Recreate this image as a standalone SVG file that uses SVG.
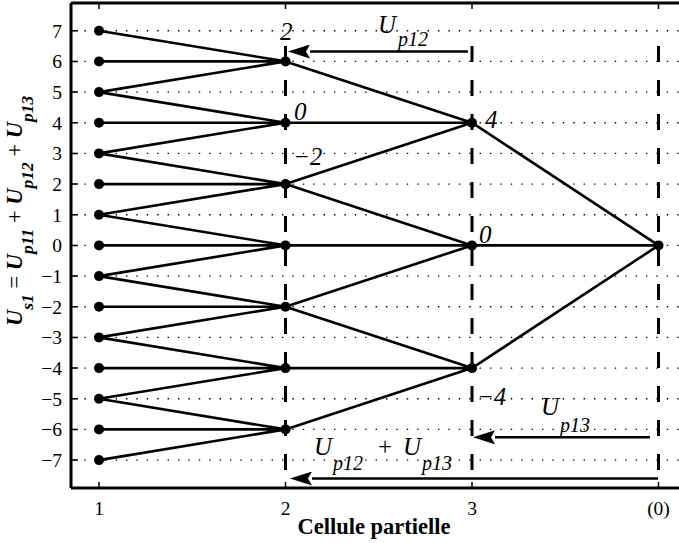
<svg xmlns="http://www.w3.org/2000/svg" width="679" height="543" viewBox="0 0 679 543">
<style>
.grid{stroke:#000;stroke-width:1.4;stroke-dasharray:1.4 9;fill:none}
.axis{stroke:#000;stroke-width:3;fill:none}
.tick{stroke:#000;stroke-width:1.5;fill:none}
.vdash{stroke:#000;stroke-width:3;stroke-dasharray:16 18;fill:none}
.edge{stroke:#000;stroke-width:2.6;fill:none;stroke-linecap:round}
.node{fill:#000}
text{font-family:"Liberation Serif","Times New Roman","DejaVu Serif",serif;fill:#000}
.tl{font-size:19.5px}
.lab{font-size:25px;font-style:italic}
.sub{font-size:20px}
.arr{stroke:#000;stroke-width:2.6;fill:none}
</style>
<defs>
<marker id="ah" markerUnits="userSpaceOnUse" markerWidth="22" markerHeight="14" refX="0" refY="7" orient="auto" viewBox="0 0 22 14">
<path d="M0,0 L22,7 L0,14 L4,7 Z" fill="#000"/>
</marker>
</defs>
<rect width="679" height="543" fill="#fff"/>
<g id="grid">
<path class="grid" d="M74,30.7H679M74,61.4H679M74,92.1H679M74,122.7H679M74,153.4H679M74,184.1H679M74,214.7H679M74,245.4H679M74,276.1H679M74,306.7H679M74,337.4H679M74,368.1H679M74,398.8H679M74,429.4H679M74,460.1H679"/>
</g>
<g id="dashes">
<path class="vdash" d="M285.5,46V488M472,46V488M658.5,46V488"/>
</g>
<g id="axes">
<path class="axis" d="M71,3H679M71,3V488M71,488H679"/>
<path class="tick" d="M71,30.7h7M71,61.4h7M71,92.1h7M71,122.7h7M71,153.4h7M71,184.1h7M71,214.7h7M71,245.4h7M71,276.1h7M71,306.7h7M71,337.4h7M71,368.1h7M71,398.8h7M71,429.4h7M71,460.1h7M99,488v-6M285.5,488v-6M472,488v-6M658.5,488v-6M99,3v6M285.5,3v6M472,3v6M658.5,3v6"/>
<g class="tl" text-anchor="end">
<text x="62" y="37.5">7</text><text x="62" y="68.2">6</text><text x="62" y="98.9">5</text><text x="62" y="129.5">4</text><text x="62" y="160.2">3</text><text x="62" y="190.9">2</text><text x="62" y="221.5">1</text><text x="62" y="252.2">0</text><text x="62" y="282.9">−1</text><text x="62" y="313.5">−2</text><text x="62" y="344.2">−3</text><text x="62" y="374.9">−4</text><text x="62" y="405.6">−5</text><text x="62" y="436.2">−6</text><text x="62" y="466.9">−7</text>
</g>
<g class="tl" text-anchor="middle">
<text x="99" y="515">1</text><text x="285.5" y="515">2</text><text x="472" y="515">3</text><text x="658.5" y="515">(0)</text>
</g>
<text x="374" y="534" text-anchor="middle" font-size="22.5" font-weight="bold">Cellule partielle</text>
<text transform="translate(22,326) rotate(-90)" font-size="22.5" font-weight="bold" font-style="italic">U<tspan dy="11" font-size="17.5">s1</tspan><tspan dy="-11" font-weight="normal" font-style="normal"> = </tspan>U<tspan dy="11" font-size="17.5">p11</tspan><tspan dy="-11" font-weight="normal" font-style="normal"> + </tspan>U<tspan dy="11" font-size="17.5">p12</tspan><tspan dy="-11" font-weight="normal" font-style="normal"> + </tspan>U<tspan dy="11" font-size="17.5">p13</tspan></text>
</g>
<g id="connectors">
<path class="edge" d="M99,30.7L285.5,61.4M99,61.4L285.5,61.4M99,92.1L285.5,61.4M99,92.1L285.5,122.7M99,122.7L285.5,122.7M99,153.4L285.5,122.7M99,153.4L285.5,184.1M99,184.1L285.5,184.1M99,214.7L285.5,184.1M99,214.7L285.5,245.4M99,245.4L285.5,245.4M99,276.1L285.5,245.4M99,276.1L285.5,306.7M99,306.7L285.5,306.7M99,337.4L285.5,306.7M99,337.4L285.5,368.1M99,368.1L285.5,368.1M99,398.8L285.5,368.1M99,398.8L285.5,429.4M99,429.4L285.5,429.4M99,460.1L285.5,429.4"/>
<path class="edge" d="M285.5,61.4L472,122.7M285.5,122.7L472,122.7M285.5,184.1L472,122.7M285.5,184.1L472,245.4M285.5,245.4L472,245.4M285.5,306.7L472,245.4M285.5,306.7L472,368.1M285.5,368.1L472,368.1M285.5,429.4L472,368.1"/>
<path class="edge" d="M472,122.7L658.5,245.4M472,245.4L658.5,245.4M472,368.1L658.5,245.4"/>
<path class="arr" d="M468,51.5H310" marker-end="url(#ah)"/>
<path class="arr" d="M650,437.3H495" marker-end="url(#ah)"/>
<path class="arr" stroke-width="2" d="M658,478.5H312" marker-end="url(#ah)"/>
</g>
<g id="nodes">
<g id="n1"><circle class="node" cx="99" cy="30.7" r="5"/><circle class="node" cx="99" cy="61.4" r="5"/><circle class="node" cx="99" cy="92.1" r="5"/><circle class="node" cx="99" cy="122.7" r="5"/><circle class="node" cx="99" cy="153.4" r="5"/><circle class="node" cx="99" cy="184.1" r="5"/><circle class="node" cx="99" cy="214.7" r="5"/><circle class="node" cx="99" cy="245.4" r="5"/><circle class="node" cx="99" cy="276.1" r="5"/><circle class="node" cx="99" cy="306.7" r="5"/><circle class="node" cx="99" cy="337.4" r="5"/><circle class="node" cx="99" cy="368.1" r="5"/><circle class="node" cx="99" cy="398.8" r="5"/><circle class="node" cx="99" cy="429.4" r="5"/><circle class="node" cx="99" cy="460.1" r="5"/></g>
<g id="n2"><circle class="node" cx="285.5" cy="61.4" r="5"/><circle class="node" cx="285.5" cy="122.7" r="5"/><circle class="node" cx="285.5" cy="184.1" r="5"/><circle class="node" cx="285.5" cy="245.4" r="5"/><circle class="node" cx="285.5" cy="306.7" r="5"/><circle class="node" cx="285.5" cy="368.1" r="5"/><circle class="node" cx="285.5" cy="429.4" r="5"/></g>
<g id="n3"><circle class="node" cx="472" cy="122.7" r="5"/><circle class="node" cx="472" cy="245.4" r="5"/><circle class="node" cx="472" cy="368.1" r="5"/></g>
<g id="n0"><circle class="node" cx="658.5" cy="245.4" r="5"/></g>
</g>
<g id="labels">
<text class="lab" x="280" y="40">2</text>
<text class="lab" x="294" y="120">0</text>
<text class="lab" x="293" y="165">−2</text>
<text class="lab" x="485" y="128">4</text>
<text class="lab" x="479" y="243">0</text>
<text class="lab" x="477" y="405">−4</text>
<text class="lab" x="378" y="33">U<tspan class="sub" x="398" y="46">p12</tspan></text>
<text class="lab" x="541" y="415">U<tspan class="sub" x="560" y="432">p13</tspan></text>
<text class="lab" x="314" y="455">U<tspan class="sub" x="333" y="470">p12</tspan><tspan x="378" y="455" font-style="normal">+</tspan><tspan x="403" y="455">U</tspan><tspan class="sub" x="422" y="470">p13</tspan></text>
</g>
</svg>
